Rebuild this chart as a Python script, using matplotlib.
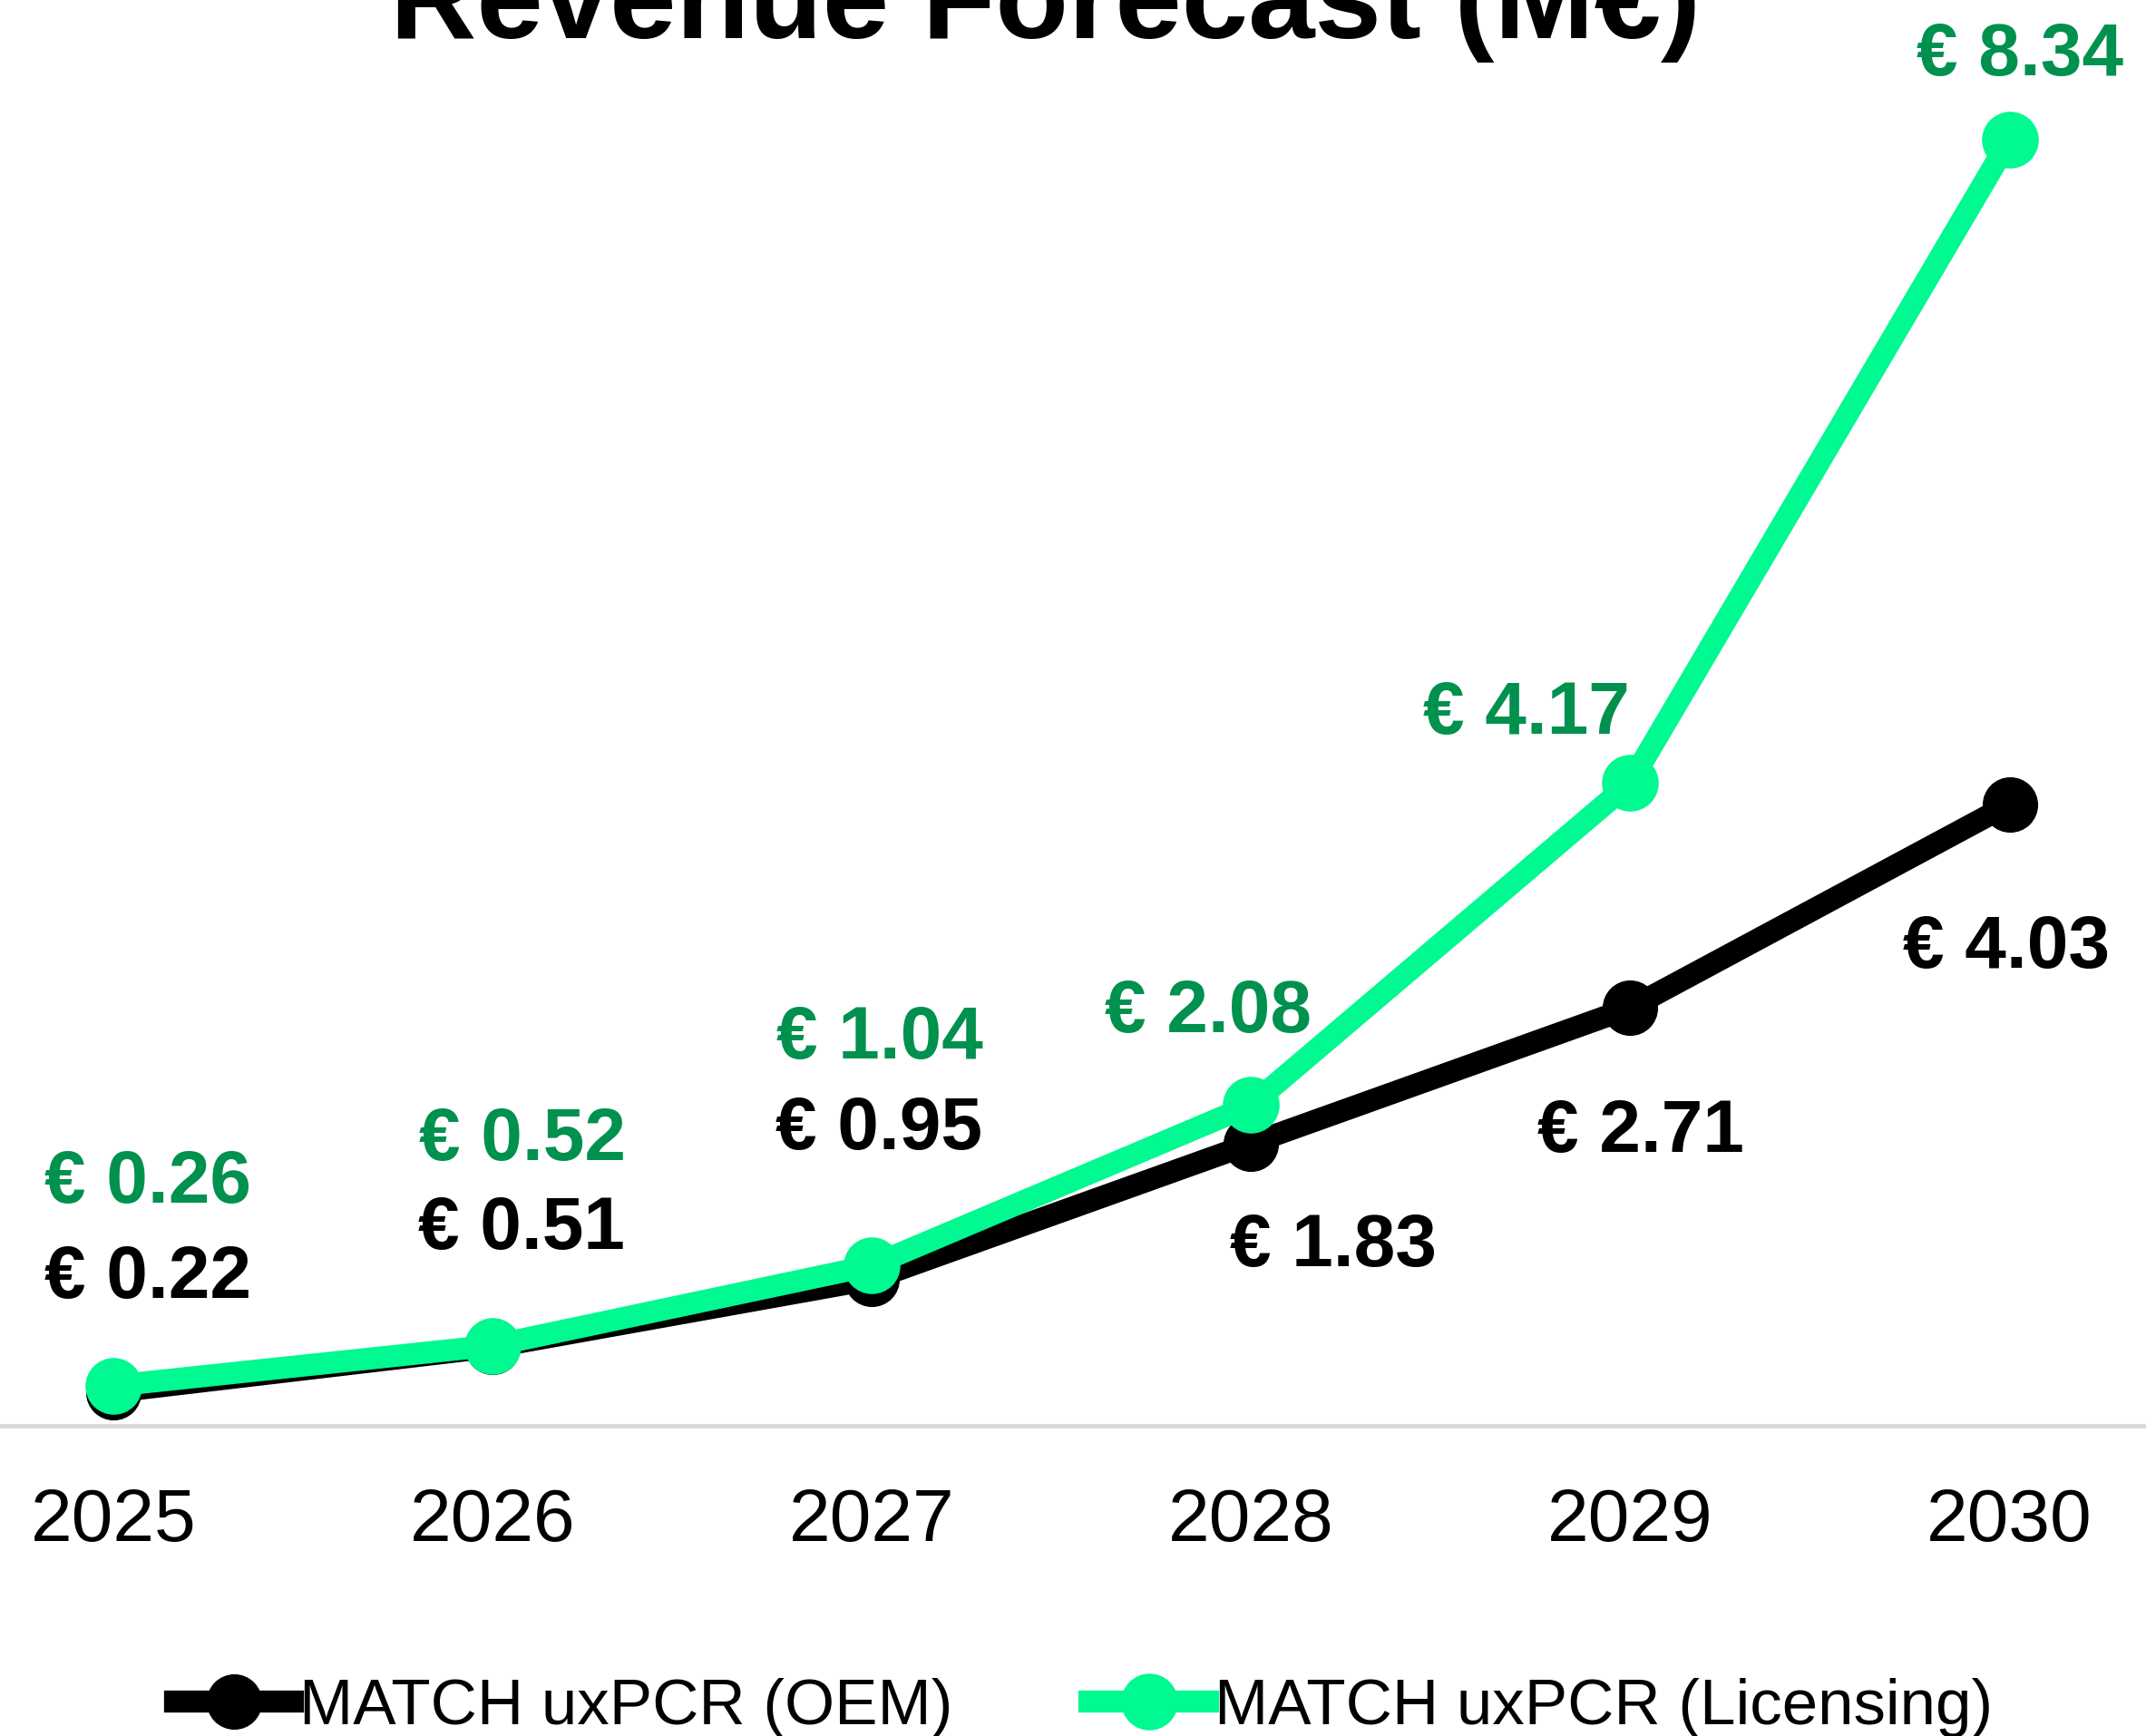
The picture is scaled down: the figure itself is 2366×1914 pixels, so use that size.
import numpy as np
import matplotlib.pyplot as plt

plt.rcParams['font.family'] = ['Liberation Sans', 'DejaVu Sans']

# data
years = [2025, 2026, 2027, 2028, 2029, 2030]
oem = [0.22, 0.51, 0.95, 1.83, 2.71, 4.03]
licensing = [0.26, 0.52, 1.04, 2.08, 4.17, 8.34]
series_names = ['MATCH uxPCR (OEM)', 'MATCH uxPCR (Licensing)']
title = 'Revenue Forecast (M€)'

# label offsets in pixels (dx, dy) from each point
oem_offsets = [(38, 126), (32, 130), (8, 165), (91, -113), (11, -137), (-3, -158)]
lic_offsets = [(38, 224), (33, 227), (8, 250), (-47, 102), (-115, 76), (12, 93)]

black = '#000000'
green = '#00F990'
green_txt = '#00914F'

fig = plt.figure(figsize=(23.66, 19.15), dpi=100)
ax = fig.add_axes([0, 0.1786, 1, 0.8214])

ax.plot(years, oem, color=black, lw=17.5, marker='o', ms=43, label=series_names[0], zorder=3)
ax.plot(years, licensing, color=green, lw=17.5, marker='o', ms=44, label=series_names[1], zorder=4)

for x, y, (dx, dy) in zip(years, oem, oem_offsets):
    ax.annotate(f'€ {y:.2f}', xy=(x, y), xytext=(dx, dy), textcoords='offset pixels',
                ha='center', va='center', fontsize=59, fontweight='bold', color=black)
for x, y, (dx, dy) in zip(years, licensing, lic_offsets):
    ax.annotate(f'€ {y:.2f}', xy=(x, y), xytext=(dx, dy), textcoords='offset pixels',
                ha='center', va='center', fontsize=59, fontweight='bold', color=green_txt,
                annotation_clip=False)

ax.set_xlim(2024.70, 2030.36)
ax.set_ylim(0, 9.25)
ax.set_xticks(years)
ax.set_xticklabels([str(y) for y in years], fontsize=59)
ax.tick_params(axis='x', length=0, pad=48)
ax.set_yticks([])
for s in ['top', 'left', 'right']:
    ax.spines[s].set_visible(False)
ax.spines['bottom'].set_color('#D9D9D9')
ax.spines['bottom'].set_linewidth(3.4)

fig.text(0.487, 0.978, title, ha='center', va='baseline', fontsize=95, fontweight='bold')

fig.legend(loc='center', bbox_to_anchor=(0.505, 0.0165), ncol=2, frameon=False,
           fontsize=51, handlelength=1.84, handletextpad=0.1, columnspacing=2.13,
           borderpad=0, borderaxespad=0)

fig.savefig('out.png', dpi=100)
